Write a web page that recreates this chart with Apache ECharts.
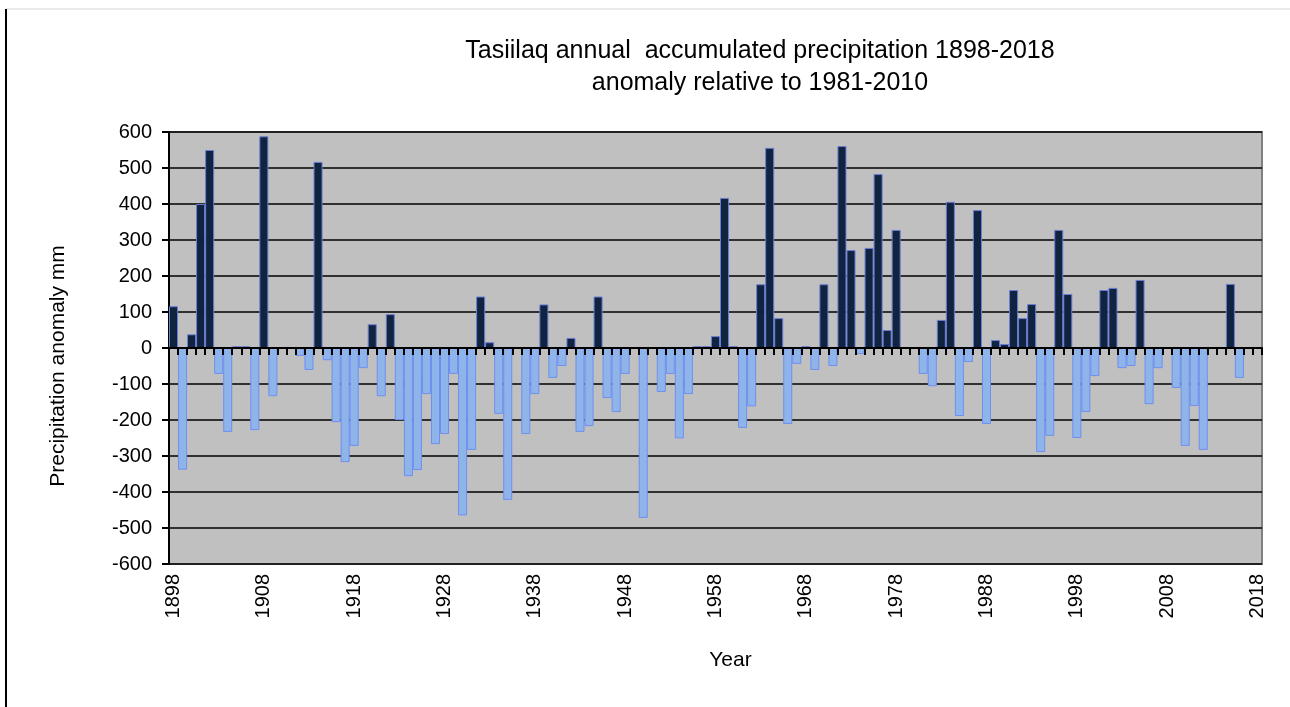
<!DOCTYPE html>
<html>
<head>
<meta charset="utf-8">
<script src="https://cdn.jsdelivr.net/npm/echarts@6/dist/echarts.min.js"></script>
<style>
html,body{margin:0;padding:0;background:#fff;}
#main{width:1290px;height:707px;}
</style>
</head>
<body>
<div id="main"></div>
<script>
// years 1898..2018, one bar per year
var firstYear = 1898, lastYear = 2018;
var years = [];
for (var y = firstYear; y <= lastYear; y++) years.push(String(y));

// precipitation anomaly (mm) relative to 1981-2010, null = no bar
var anomaly = [
    116, -338, 38, 400, 550, -72, -233, 5, 5, -228,          // 1898-1907
    588, -134, null, null, -22, -61, 517, -34, -206, -317,   // 1908-1917
    -272, -56, 66, -134, 94, -200, -356, -339, -128, -267,   // 1918-1927
    -239, -72, -465, -283, 143, 16, -183, -422, null, -239,  // 1928-1937
    -128, 121, -83, -50, 28, -233, -217, 143, -139, -178,    // 1938-1947
    -72, null, -472, null, -122, -72, -251, -128, 5, 5,      // 1948-1957
    33, 417, 5, -222, -162, 177, 556, 83, -211, -44,         // 1958-1967
    5, -61, 177, -50, 561, 272, -17, 278, 483, 50,           // 1968-1977
    328, null, null, -72, -106, 78, 406, -189, -39, 383,     // 1978-1987
    -211, 22, 11, 161, 83, 122, -289, -244, 328, 150,        // 1988-1997
    -250, -178, -78, 161, 167, -56, -50, 189, -156, -56,     // 1998-2007
    null, -111, -272, -161, -283, null, null, 178, -83, null, // 2008-2017
    null                                                     // 2018
];

var yTicks = [-600, 600, 100]; // min, max, step

var posStyle = {color: '#10233f', borderColor: '#6a7cd6', borderWidth: 1};
var negStyle = {color: '#8fb4ea', borderColor: '#6e8ff0', borderWidth: 1};

var barData = anomaly.map(function (v) {
    if (v === null) return '-';
    return {value: v, itemStyle: v >= 0 ? posStyle : negStyle};
});

var font = 'Liberation Sans, Arial, sans-serif';

var myChart = echarts.init(document.getElementById('main'));
var option = {
    animation: false,
    backgroundColor: '#fff',
    textStyle: {fontFamily: font},
    title: {
        text: 'Tasiilaq annual  accumulated precipitation 1898-2018\nanomaly relative to 1981-2010',
        left: 755,
        top: 30,
        textAlign: 'center',
        textStyle: {fontFamily: font, fontSize: 25, fontWeight: 'normal', color: '#000', lineHeight: 32}
    },
    graphic: [
        {type: 'line', shape: {x1: 6, y1: 9, x2: 1290, y2: 9}, style: {stroke: '#d4d4d4', lineWidth: 1}},
        {type: 'line', shape: {x1: 6, y1: 9, x2: 6, y2: 707}, style: {stroke: '#000', lineWidth: 2}}
    ],
    grid: {
        left: 169, right: 28, top: 132, bottom: 143,
        show: true, backgroundColor: '#c0c0c0', borderColor: '#808080', borderWidth: 2
    },
    xAxis: [{
        type: 'category',
        data: years,
        position: 'bottom',
        z: 5,
        axisLine: {onZero: true, lineStyle: {color: '#000', width: 2}},
        axisTick: {show: true, interval: 0, length: 7, lineStyle: {color: '#000', width: 2}},
        axisLabel: {show: false},
        splitLine: {show: false}
    }, {
        type: 'category',
        data: years,
        position: 'bottom',
        axisLine: {show: false, onZero: false},
        axisTick: {show: false},
        axisLabel: {interval: 9, rotate: 90, margin: 10, fontSize: 20, color: '#000', fontFamily: font},
        name: 'Year',
        nameLocation: 'middle',
        nameGap: 86,
        nameTextStyle: {fontSize: 21, color: '#000', fontFamily: font, padding: [0, 0, 0, 30]}
    }],
    yAxis: {
        type: 'value',
        min: yTicks[0],
        max: yTicks[1],
        interval: yTicks[2],
        axisLine: {show: true, lineStyle: {color: '#000', width: 2}},
        axisTick: {show: true, length: 7, lineStyle: {color: '#000', width: 2}},
        axisLabel: {fontSize: 20, color: '#000', margin: 17, fontFamily: font},
        splitLine: {lineStyle: {color: '#000', width: 1.5}},
        name: 'Precipitation anomaly mm',
        nameLocation: 'middle',
        nameGap: 100,
        nameTextStyle: {fontSize: 21, color: '#000', fontFamily: font, padding: [0, 36, 0, 0]}
    },
    series: [{
        type: 'bar',
        xAxisIndex: 0,
        data: barData,
        barWidth: '100%'
    }]
};
myChart.setOption(option, true);
</script>
</body>
</html>
